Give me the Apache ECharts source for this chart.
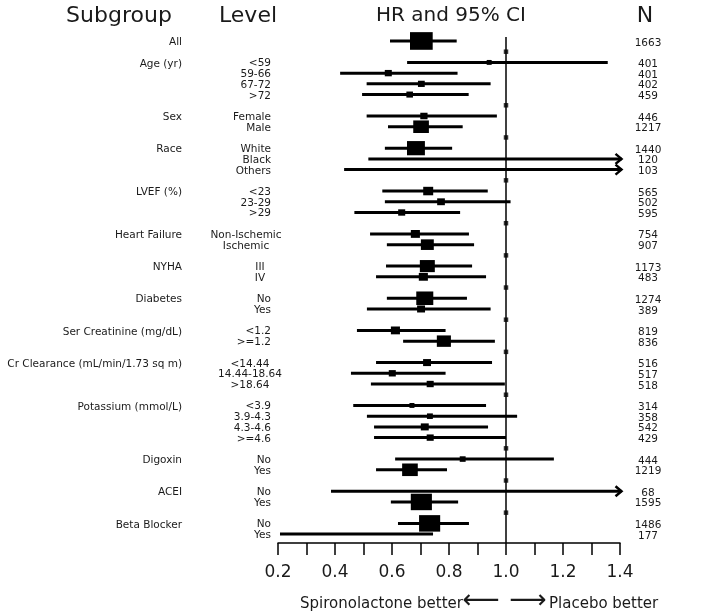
<!DOCTYPE html>
<html><head><meta charset="utf-8">
<script src="https://cdn.jsdelivr.net/npm/echarts@6/dist/echarts.min.js"></script>
<style>html,body{margin:0;padding:0;background:#fff}#c{width:705px;height:616px}</style>
</head><body><div id="c"></div>
<script>
// ---------------- data ----------------
const groups = ['All', 'Age (yr)', 'Sex', 'Race', 'LVEF (%)', 'Heart Failure', 'NYHA', 'Diabetes',
  'Ser Creatinine (mg/dL)', 'Cr Clearance (mL/min/1.73 sq m)', 'Potassium (mmol/L)', 'Digoxin', 'ACEI', 'Beta Blocker'];
const rowGroup = [0, 1, 1, 1, 1, 2, 2, 3, 3, 3, 4, 4, 4, 5, 5, 6, 6, 7, 7, 8, 8, 9, 9, 9, 10, 10, 10, 10, 11, 11, 12, 12, 13, 13];
const levels = ['', '<59', '59-66', '67-72', '>72', 'Female', 'Male', 'White', 'Black', 'Others',
  '<23', '23-29', '>29', 'Non-Ischemic', 'Ischemic', 'III', 'IV', 'No', 'Yes', '<1.2', '>=1.2',
  '<14.44', '14.44-18.64', '>18.64', '<3.9', '3.9-4.3', '4.3-4.6', '>=4.6', 'No', 'Yes', 'No', 'Yes', 'No', 'Yes'];
const hr = [0.703, 0.941, 0.587, 0.703, 0.662, 0.712, 0.702, 0.684, null, null,
  0.727, 0.772, 0.634, 0.682, 0.724, 0.724, 0.710, 0.715, 0.702, 0.612, 0.782,
  0.723, 0.601, 0.734, 0.670, 0.733, 0.715, 0.734, 0.848, 0.663, null, 0.703, 0.732, null];
const ciLow = [0.593, 0.653, 0.418, 0.511, 0.495, 0.511, 0.586, 0.575, 0.517, 0.432,
  0.566, 0.575, 0.468, 0.523, 0.582, 0.579, 0.544, 0.582, 0.512, 0.477, 0.639,
  0.544, 0.456, 0.526, 0.464, 0.512, 0.537, 0.537, 0.611, 0.544, 0.386, 0.596, 0.621, 0.207];
const ciHigh = [0.827, 1.357, 0.830, 0.946, 0.869, 0.968, 0.848, 0.811, 1.90, 2.10,
  0.936, 1.016, 0.839, 0.870, 0.888, 0.881, 0.930, 0.863, 0.946, 0.788, 0.961,
  0.951, 0.788, 0.996, 0.930, 1.039, 0.937, 1.000, 1.168, 0.793, 2.40, 0.832, 0.870, 0.744];
const nPatients = [1663, 401, 401, 402, 459, 446, 1217, 1440, 120, 103, 565, 502, 595, 754, 907,
  1173, 483, 1274, 389, 819, 836, 516, 517, 518, 314, 358, 542, 429, 444, 1219, 68, 1595, 1486, 177];
// relative weight of each estimate (All = 100)
const weight = [100, 22, 31, 30, 29, 32, 69, 79, null, null, 44, 34, 31, 40, 57, 66, 40, 75, 35, 40, 62,
  35, 31, 31, 22, 26, 35, 31, 26, 69, null, 93, 93, null];
const tickLabels = ['0.2', '0.4', '0.6', '0.8', '1.0', '1.2', '1.4'];
const refValue = 1.0;
const xMin = 0.2, xMax = 1.4, xStep = 0.1;

// ---------------- layout ----------------
const FONT = 'DejaVu Sans';
const INK = '#1a1a1a';
const SMALL = 10.5;
const rows = [];
const sepRows = [];
let r = 0;
groups.forEach((g, gi) => {
  if (gi > 0) { sepRows.push(r); r++; }
  let first = true;
  rowGroup.forEach((rg, i) => {
    if (rg === gi) { rows.push({ i: i, row: r, first: first, gi: gi }); first = false; r++; }
  });
});
const nRows = r;
const yMin = -0.37, yMax = nRows - 1 + 0.83;

const levelAnchor = { 5: ['center', 246], 6: ['center', 260], 9: ['center', 250] };

const chart = echarts.init(document.getElementById('c'), null, { renderer: 'canvas' });

function textEl(x, y, text, size, align) {
  return { type: 'text', x: x, y: y, style: { text: text, fontSize: size, fontFamily: FONT, fill: INK, align: align, verticalAlign: 'middle' } };
}

const option = {
  animation: false,
  grid: { left: 278, right: 85, top: 37, bottom: 73 },
  xAxis: {
    type: 'value', min: xMin, max: xMax, interval: xStep, position: 'bottom',
    axisLine: { show: true, onZero: false, lineStyle: { color: '#000', width: 1.5 } },
    axisTick: { show: true, length: 12, lineStyle: { color: '#000', width: 1.5 } },
    splitLine: { show: false },
    axisLabel: {
      fontSize: 17, fontFamily: FONT, color: INK, margin: 21,
      formatter: function (v) { const s = v.toFixed(1); return tickLabels.indexOf(s) >= 0 ? s : ''; }
    }
  },
  yAxis: { type: 'value', inverse: true, min: yMin, max: yMax, show: false },
  graphic: [
    textEl(119, 16, 'Subgroup', 22, 'center'),
    textEl(248, 16, 'Level', 22, 'center'),
    textEl(451, 16, 'HR and 95% CI', 20, 'center'),
    textEl(645, 16, 'N', 22, 'center'),
    textEl(463, 604, 'Spironolactone better', 15, 'right'),
    textEl(481, 601, '\u27F5', 26, 'center'),
    textEl(528, 601, '\u27F6', 26, 'center'),
    textEl(549, 604, 'Placebo better', 15, 'left')
  ],
  series: [
    { // reference line at HR = 1
      type: 'line', silent: true, symbol: 'none', z: 1,
      data: [[refValue, yMin], [refValue, yMax]],
      lineStyle: { color: '#000', width: 1.5 }
    },
    { // separator markers
      type: 'scatter', silent: true, symbol: 'rect', symbolSize: 4.5, z: 3,
      data: sepRows.map(function (rr) { return [refValue, rr]; }),
      itemStyle: { color: '#000' }
    },
    { // confidence intervals
      type: 'custom', silent: true, z: 2,
      data: rows.map(function (d) { return [ciLow[d.i], ciHigh[d.i], d.row]; }),
      encode: { x: [0, 1], y: 2 },
      renderItem: function (params, api) {
        const lo = api.value(0), hi = api.value(1), row = api.value(2);
        const p1 = api.coord([Math.max(lo, xMin), row]);
        const over = hi > xMax;
        const p2 = api.coord([Math.min(hi, xMax), row]);
        const xe = over ? p2[0] + 1.5 : p2[0];
        const ch = [{ type: 'line', shape: { x1: p1[0], y1: p1[1], x2: xe, y2: p2[1] }, style: { stroke: '#000', lineWidth: 3 } }];
        if (over) ch.push({ type: 'polyline', shape: { points: [[xe - 6, p2[1] - 5], [xe, p2[1]], [xe - 6, p2[1] + 5]] }, style: { stroke: '#000', lineWidth: 2.5, fill: null } });
        return { type: 'group', children: ch };
      }
    },
    { // point estimates (boxes)
      type: 'custom', silent: true, z: 4,
      data: rows.filter(function (d) { return hr[d.i] != null; }).map(function (d) { return [hr[d.i], d.row, weight[d.i]]; }),
      encode: { x: 0, y: 1 },
      renderItem: function (params, api) {
        const c = api.coord([api.value(0), api.value(1)]);
        const w = 22.7 * api.value(2) / 100;
        const h = 0.72 * w + 1.3;
        return { type: 'rect', shape: { x: c[0] - w / 2, y: c[1] - h / 2, width: w, height: h }, style: { fill: '#000' } };
      }
    },
    { // subgroup names
      type: 'custom', silent: true,
      data: rows.filter(function (d) { return d.first; }).map(function (d) { return [xMin, d.row, d.gi]; }),
      encode: { x: 0, y: 1 },
      renderItem: function (params, api) {
        const y = api.coord([xMin, api.value(1)])[1] + 1.5;
        return textEl(182, y, groups[api.value(2)], SMALL, 'right');
      }
    },
    { // level labels
      type: 'custom', silent: true,
      data: rows.map(function (d) { return [xMin, d.row, d.i]; }),
      encode: { x: 0, y: 1 },
      renderItem: function (params, api) {
        const i = api.value(2);
        const y = api.coord([xMin, api.value(1)])[1] + 1.2;
        const a = levelAnchor[rowGroup[i]] || ['right', 271];
        return textEl(a[1], y, levels[i], SMALL, a[0]);
      }
    },
    { // N column
      type: 'custom', silent: true,
      data: rows.map(function (d) { return [xMin, d.row, d.i]; }),
      encode: { x: 0, y: 1 },
      renderItem: function (params, api) {
        const i = api.value(2);
        const y = api.coord([xMin, api.value(1)])[1] + 1.8;
        return textEl(648, y, String(nPatients[i]), SMALL, 'center');
      }
    }
  ]
};
chart.setOption(option);
</script>
</body></html>
